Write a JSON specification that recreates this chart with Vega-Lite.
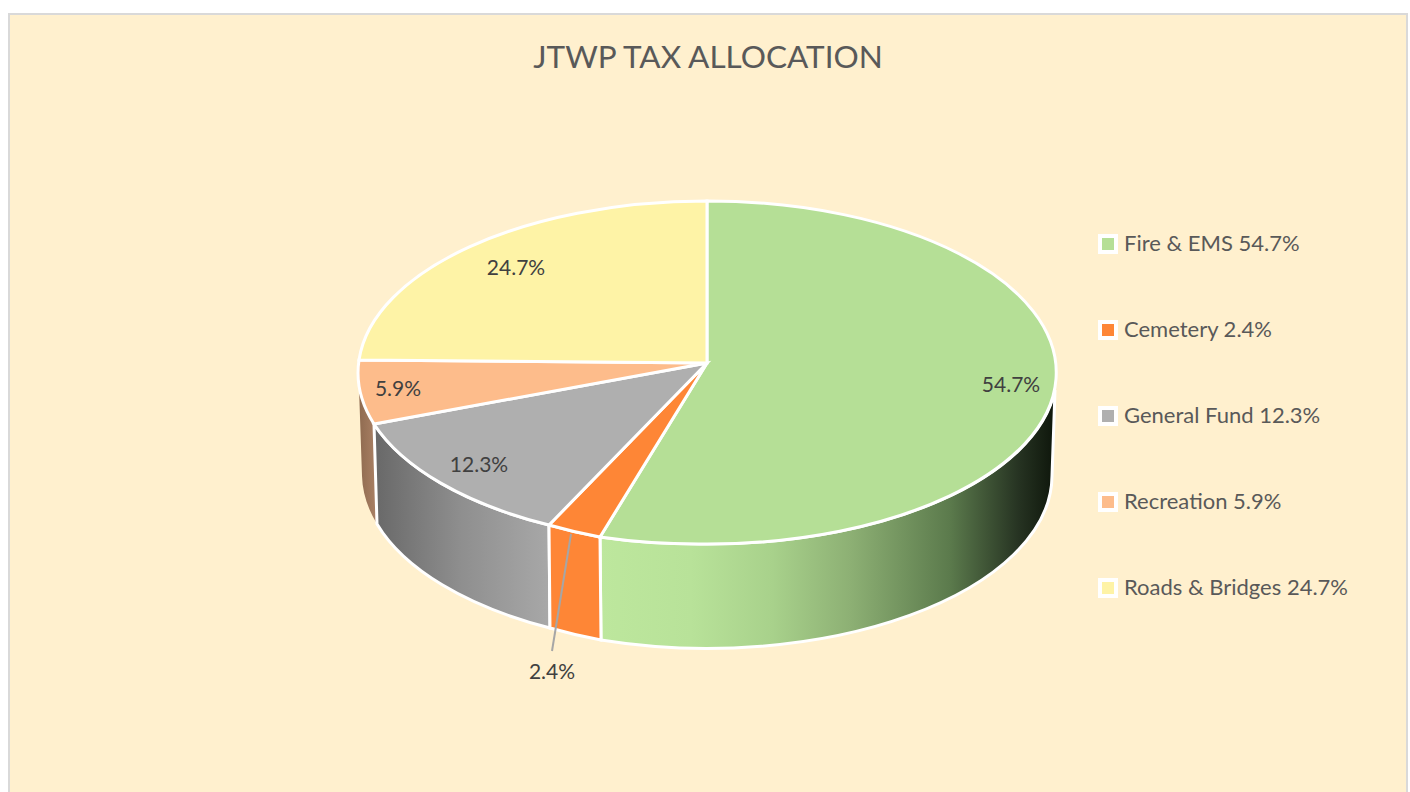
{
  "$schema": "https://vega.github.io/schema/vega-lite/v6.json",
  "width": 1398,
  "height": 778,
  "padding": {"left": 9, "top": 14, "right": 3, "bottom": 0},
  "autosize": {"type": "none"},
  "background": "#ffffff",
  "view": {"fill": "#FFF0CE", "stroke": null},
  "title": {"text": "JTWP TAX ALLOCATION", "font": "Lato", "fontSize": 31.5, "fontWeight": "normal", "color": "#595959", "anchor": "middle", "dy": 68},
  "data": {"values": [
    {"category": "Fire & EMS", "share": 0.547, "entry": "Fire & EMS 54.7%"},
    {"category": "Cemetery", "share": 0.024, "entry": "Cemetery 2.4%"},
    {"category": "General Fund", "share": 0.123, "entry": "General Fund 12.3%"},
    {"category": "Recreation", "share": 0.059, "entry": "Recreation 5.9%"},
    {"category": "Roads & Bridges", "share": 0.247, "entry": "Roads & Bridges 24.7%"}
  ]},
  "layer": [
    {
      "transform": [{"filter": "datum.category === 'Recreation'"}],
      "mark": {"type": "point", "filled": true, "opacity": 1, "size": 4, "strokeWidth": 0,
        "shape": "M-334,21 A349 171.5 0 0 1 -349,-15 L-346,73 A345 172 0 0 0 -331,121 Z",
        "fill": {"gradient": "linear", "x1": 0, "x2": 1, "y1": 0, "y2": 0, "stops": [{"offset": 0, "color": "#8F6B50"}, {"offset": 1, "color": "#AB8165"}]}}
    },
    {
      "transform": [{"filter": "datum.category === 'General Fund'"}],
      "mark": {"type": "point", "filled": true, "opacity": 1, "size": 4, "stroke": "#ffffff", "strokeWidth": 3,
        "shape": "M-334,21 A349 171.5 0 0 0 -159,122 L-158,225 A345 172 0 0 1 -331,121 Z",
        "fill": {"gradient": "linear", "x1": 0, "x2": 1, "y1": 0, "y2": 0, "stops": [{"offset": 0, "color": "#686868"}, {"offset": 0.5, "color": "#8F8F8F"}, {"offset": 1, "color": "#A8A8A8"}]}}
    },
    {
      "transform": [{"filter": "datum.category === 'Fire & EMS'"}],
      "mark": {"type": "point", "filled": true, "opacity": 1, "size": 4, "stroke": "#ffffff", "strokeWidth": 3,
        "shape": "M-108,134 A349 171.5 0 0 0 -1,141 A349 171.5 0 0 0 347,-13 L344,73 A345 173 0 0 1 -107,237 Z",
        "fill": {"gradient": "linear", "x1": 0, "x2": 1, "y1": 0, "y2": 0, "stops": [
          {"offset": 0, "color": "#BDE79D"}, {"offset": 0.2, "color": "#B8E299"}, {"offset": 0.38, "color": "#A8D18B"},
          {"offset": 0.55, "color": "#8DB074"}, {"offset": 0.77, "color": "#5B7A4C"}, {"offset": 0.92, "color": "#263322"}, {"offset": 1, "color": "#0E160B"}]}}
    },
    {
      "transform": [{"filter": "datum.category === 'Cemetery'"}],
      "mark": {"type": "point", "filled": true, "opacity": 1, "size": 4, "stroke": "#ffffff", "strokeWidth": 3, "fill": "#FE8636",
        "shape": "M-159,122 A349 171.5 0 0 0 -108,134 L-107,237 A345 173 0 0 1 -158,225 Z"}
    },
    {
      "mark": {"type": "point", "filled": true, "opacity": 1, "size": 4, "stroke": "#ffffff", "strokeWidth": 3},
      "encoding": {
        "fill": {
          "field": "entry", "type": "nominal",
          "scale": {
            "domain": ["Fire & EMS 54.7%", "Cemetery 2.4%", "General Fund 12.3%", "Recreation 5.9%", "Roads & Bridges 24.7%"],
            "range": ["#B5DF96", "#FE8636", "#AFAFAF", "#FDBC8B", "#FEF3A6"]
          },
          "legend": {
            "title": null, "orient": "none", "legendX": 1088, "legendY": 219, "direction": "vertical", "columns": 1,
            "symbolType": "square", "symbolSize": 256, "symbolStrokeColor": "#ffffff", "symbolStrokeWidth": 4, "symbolOpacity": 1,
            "labelFont": "Lato", "labelFontSize": 22, "labelColor": "#595959", "labelOffset": 5, "labelLimit": 320, "rowPadding": 54
          }
        },
        "shape": {
          "field": "category", "type": "nominal", "legend": null,
          "scale": {
            "domain": ["Fire & EMS", "Cemetery", "General Fund", "Recreation", "Roads & Bridges"],
            "range": [
              "M-1,-40 L-1,-202 A349 171.5 0 0 1 348,-24 A349 171.5 0 0 1 -1,141 A349 171.5 0 0 1 -108,134 Z",
              "M-1,-40 L-108,134 A349 171.5 0 0 1 -159,122 Z",
              "M-1,-40 L-159,122 A349 171.5 0 0 1 -334,21 Z",
              "M-1,-40 L-334,21 A349 171.5 0 0 1 -349,-43 Z",
              "M-1,-40 L-349,-43 A349 171.5 0 0 1 -1,-202 Z"
            ]
          }
        }
      }
    },
    {
      "transform": [{"filter": "datum.category === 'Cemetery'"}],
      "mark": {"type": "point", "filled": false, "opacity": 1, "size": 4, "stroke": "#A6A6A6", "strokeWidth": 2,
        "shape": "M-137,131 L-156,248"}
    },
    {
      "mark": {"type": "text", "font": "Lato", "fontSize": 21, "color": "#404040", "align": "center", "baseline": "middle"},
      "encoding": {
        "x": {"field": "share", "type": "quantitative", "axis": null,
          "scale": {"type": "linear", "domain": [0.024, 0.059, 0.123, 0.247, 0.547], "range": [543, 389, 470, 507, 1002]}},
        "y": {"field": "share", "type": "quantitative", "axis": null,
          "scale": {"type": "linear", "domain": [0.024, 0.059, 0.123, 0.247, 0.547], "range": [659, 376, 452, 255, 372]}},
        "text": {"field": "share", "type": "quantitative", "format": ".1%"}
      }
    },
    {
      "data": {"values": [{"part": "frame"}]},
      "mark": {"type": "point", "filled": false, "opacity": 1, "size": 4, "stroke": "#D9D9D9", "strokeWidth": 2,
        "shape": "M-699,389 L-699,-389 L699,-389 L699,389"}
    }
  ]
}
